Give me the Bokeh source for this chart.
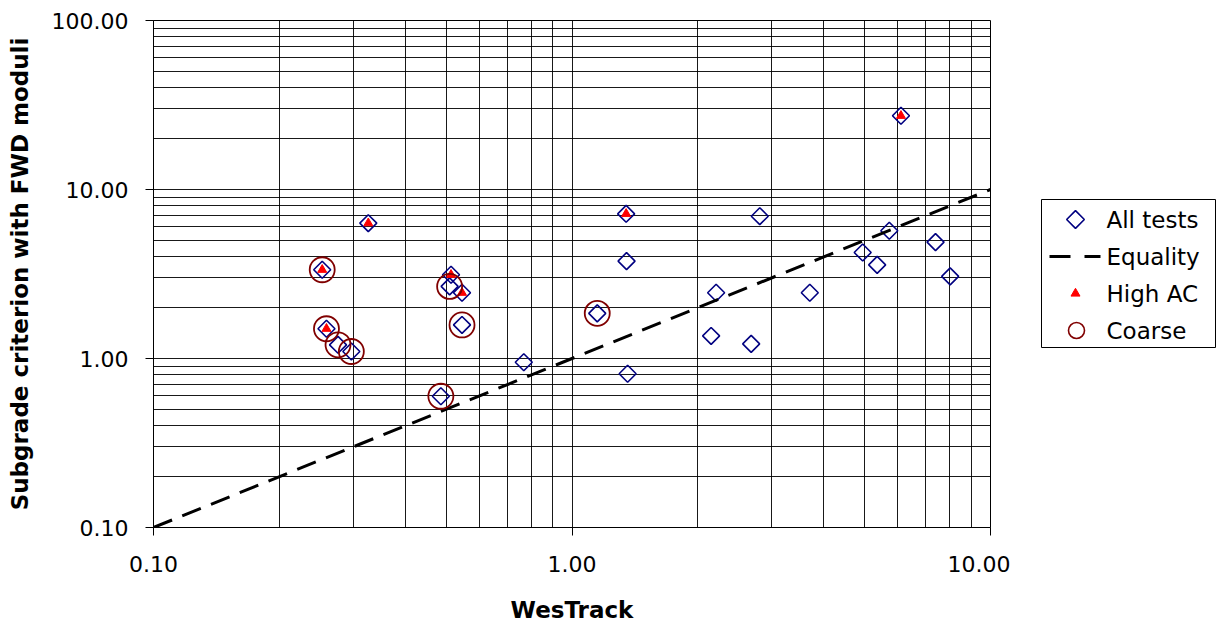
from bokeh.plotting import figure
from bokeh.layouts import row
from bokeh.models import Range1d, PrintfTickFormatter, FixedTicker
from bokeh.core.properties import value
from bokeh.embed import file_html
from bokeh.resources import INLINE

# All tests (WesTrack vs subgrade criterion with FWD moduli)
all_x = [0.326, 0.253, 0.259, 0.276, 0.297, 0.514, 0.510, 0.546, 0.546, 0.486,
         1.347, 1.350, 1.149, 0.767, 1.358, 2.81, 2.21, 2.15, 2.68, 3.70,
         6.11, 5.73, 4.95, 5.36, 7.39, 8.01]
all_y = [6.32, 3.35, 1.50, 1.205, 1.10, 3.13, 2.67, 2.45, 1.58, 0.598,
         7.18, 3.77, 1.85, 0.95, 0.812, 6.95, 2.45, 1.36, 1.22, 2.45,
         27.3, 5.70, 4.24, 3.58, 4.88, 3.06]

# High AC subset
hac_x = [0.326, 0.253, 0.259, 0.514, 0.546, 1.347, 6.11]
hac_y = [6.32, 3.35, 1.50, 3.13, 2.45, 7.18, 27.3]

# Coarse subset
coarse_x = [0.253, 0.259, 0.276, 0.297, 0.510, 0.546, 0.486, 1.149]
coarse_y = [3.35, 1.50, 1.205, 1.10, 2.67, 1.58, 0.598, 1.85]

# Equality line
eq_x = [0.1, 10.0]
eq_y = [0.1, 10.0]

# Axis ticks
x_major = [0.1, 1.0, 10.0]
y_major = [0.1, 1.0, 10.0, 100.0]

# Legend labels
legend_labels = ["All tests", "Equality", "High AC", "Coarse"]

FONT = "DejaVu Sans"
NAVY = "#000080"
RED = "#ff0000"
MAROON = "#800000"

FRAME_T, FRAME_B = 20, 527


def minors(majors):
    out = []
    for m in majors[:-1]:
        out += [m * k for k in range(2, 10)]
    return out


p = figure(width=1010, height=626, x_axis_type="log", y_axis_type="log",
           x_range=Range1d(0.1, 10), y_range=Range1d(0.1, 100),
           output_backend="svg", toolbar_location=None,
           min_border_left=153, min_border_right=20,
           min_border_top=FRAME_T, min_border_bottom=626 - FRAME_B,
           background_fill_color="white", border_fill_color="white")

p.outline_line_color = "#000000"
p.outline_line_width = 1

xt = FixedTicker(ticks=x_major, minor_ticks=minors(x_major))
yt = FixedTicker(ticks=y_major, minor_ticks=minors(y_major))
p.xaxis[0].ticker = xt
p.xgrid[0].ticker = xt
p.yaxis[0].ticker = yt
p.ygrid[0].ticker = yt

for g in (p.xgrid[0], p.ygrid[0]):
    g.grid_line_color = "#000000"
    g.grid_line_alpha = 0.9
    g.grid_line_width = 1
    g.minor_grid_line_color = "#000000"
    g.minor_grid_line_alpha = 0.9
    g.minor_grid_line_width = 1

for ax in (p.xaxis[0], p.yaxis[0]):
    ax.formatter = PrintfTickFormatter(format="%.2f")
    ax.major_label_text_font = FONT
    ax.major_label_text_font_size = "22px"
    ax.major_label_text_color = "#000000"
    ax.axis_label_text_font = FONT
    ax.axis_label_text_font_size = "23px"
    ax.axis_label_text_font_style = "bold"
    ax.axis_label_text_color = "#000000"
    ax.axis_line_color = "#000000"
    ax.major_tick_line_color = "#000000"
    ax.major_tick_out = 8
    ax.major_tick_in = 0
    ax.minor_tick_out = 0
    ax.minor_tick_in = 0

p.xaxis[0].axis_label = "WesTrack"
p.yaxis[0].axis_label = "Subgrade criterion with FWD moduli"
p.xaxis[0].major_label_standoff = 20
p.xaxis[0].axis_label_standoff = 22
p.yaxis[0].major_label_standoff = 17
p.yaxis[0].axis_label_standoff = 16

p.scatter(all_x, all_y, marker="square", angle=0.7853981634, size=12,
          fill_color=None, line_color=NAVY, line_width=1.6)
p.line(eq_x, eq_y, line_color="#000000", line_width=3, line_dash="20 11")
p.scatter(hac_x, hac_y, marker="triangle", size=9,
          fill_color=RED, line_color=RED, line_width=1)
p.scatter(coarse_x, coarse_y, marker="circle", size=25,
          fill_color=None, line_color=MAROON, line_width=1.8)

# ---- legend panel (its frame is aligned with the main frame; y in page pixels) ----
lg = figure(width=206, height=626, x_range=Range1d(1010, 1216),
            y_range=Range1d(FRAME_B, FRAME_T),
            output_backend="svg", toolbar_location=None, min_border=0,
            x_axis_location=None, y_axis_location=None,
            background_fill_color="white", border_fill_color="white")
lg.outline_line_color = None
lg.xgrid.visible = False
lg.ygrid.visible = False

box_l, box_r, box_t, box_b = 1041, 1215, 199, 347
row_y = [219, 256, 293, 330]
gx = 1075
text_x = 1106

lg.quad(left=[box_l], right=[box_r], top=[box_t], bottom=[box_b],
        fill_color="white", line_color="#000000", line_width=1)
lg.scatter([gx], [row_y[0]], marker="square", angle=0.7853981634, size=12.5,
           fill_color=None, line_color=NAVY, line_width=1.6)
lg.segment(x0=[1049, 1084], y0=[row_y[1]] * 2, x1=[1070, 1100], y1=[row_y[1]] * 2,
           line_color="#000000", line_width=3)
lg.scatter([gx], [row_y[2]], marker="triangle", size=9,
           fill_color=RED, line_color=RED)
lg.scatter([gx + 1], [row_y[3]], marker="circle", size=16,
           fill_color=None, line_color=MAROON, line_width=1.6)
lg.text(x=[text_x] * 4, y=row_y, text=legend_labels,
        text_font_size="23px", text_baseline="middle", text_align="left",
        text_color="#000000", text_font=value(FONT))

open("out.html", "w").write(file_html(row(p, lg), INLINE))
